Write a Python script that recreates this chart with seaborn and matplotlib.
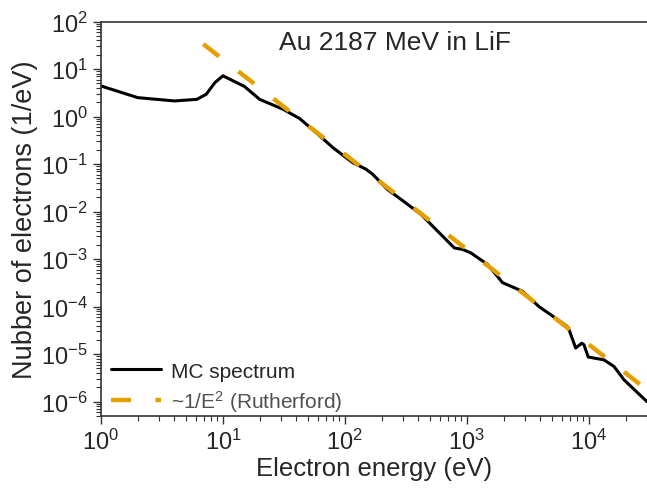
import matplotlib
matplotlib.use("Agg")
import matplotlib.pyplot as plt
import seaborn as sns
import pandas as pd
import numpy as np
from matplotlib.ticker import LogLocator, NullFormatter

# MC electron spectrum
mc_energy = [1, 2, 4, 6.1, 7.3, 8.6, 10, 15, 20, 31, 42.5, 58, 80, 116, 149, 169,
             224, 289, 421, 789, 922, 1080, 1480, 1960, 2860, 3910, 5350, 6670,
             6970, 7800, 8750, 9120, 9900, 13300, 16100, 19400, 30000]
mc_counts = [4.4, 2.5, 2.13, 2.3, 2.95, 5.2, 7.2, 4.3, 2.3, 1.43, 0.91, 0.46, 0.22,
             0.107, 0.078, 0.061, 0.029, 0.018, 8.7e-3, 1.72e-3, 1.6e-3, 1.35e-3,
             7.7e-4, 3.2e-4, 2.1e-4, 1.0e-4, 5.7e-5, 3.8e-5, 3.0e-5, 1.35e-5,
             1.7e-5, 1.58e-5, 8.7e-6, 7.6e-6, 5.5e-6, 2.9e-6, 1.0e-6]

# ~1/E^2 guide line, end points
ruth_energy = [6.9, 30000]
ruth_counts = [33.5, 1.78e-6]

mc = pd.DataFrame({"energy": mc_energy, "counts": mc_counts})
ru = pd.DataFrame({"energy": ruth_energy, "counts": ruth_counts})

sns.set_style("ticks")
plt.rcParams['font.family'] = ['Liberation Sans', 'DejaVu Sans']
plt.rcParams['mathtext.fontset'] = 'custom'
plt.rcParams['mathtext.rm'] = 'Liberation Sans'
plt.rcParams['mathtext.it'] = 'Liberation Sans:italic'

fig = plt.figure(figsize=(6.47, 4.89), dpi=100)
ax = fig.add_axes([101/647, 1 - 417/489, 1 - 101/647, (417 - 22.5)/489])

sns.lineplot(data=mc, x="energy", y="counts", color="black", lw=2.2,
             estimator=None, ax=ax, label="MC spectrum")
sns.lineplot(data=ru, x="energy", y="counts", color="#E69F00", lw=3.2,
             estimator=None, ax=ax, linestyle=(0, (4.5, 5.5)),
             label=r"~1/$\mathdefault{E^{2}}$ (Rutherford)")

ax.set_xscale("log")
ax.set_yscale("log")
ax.set_xlim(1, 3e4)
ax.set_ylim(5e-7, 1e2)

ax.xaxis.set_major_locator(LogLocator(base=10, numticks=20))
ax.xaxis.set_minor_locator(LogLocator(base=10, subs=np.arange(2, 10), numticks=100))
ax.yaxis.set_major_locator(LogLocator(base=10, numticks=20))
ax.yaxis.set_minor_locator(LogLocator(base=10, subs=np.arange(2, 10), numticks=100))
ax.xaxis.set_minor_formatter(NullFormatter())
ax.yaxis.set_minor_formatter(NullFormatter())

ax.tick_params(which="major", direction="out", length=6, width=1, labelsize=17,
               color="#333333", top=False, right=False)
ax.tick_params(which="minor", direction="out", length=3.5, width=0.8,
               color="#333333", top=False, right=False)
for s in ["left", "bottom", "top"]:
    ax.spines[s].set_color("#333333")
    ax.spines[s].set_linewidth(1.2)
ax.spines["right"].set_visible(False)

ax.set_xlabel("Electron energy (eV)", fontsize=18.5, labelpad=1)
ax.set_ylabel("Nubber of electrons (1/eV)", fontsize=19.5, labelpad=2)

ax.text(0.539, 0.948, "Au 2187 MeV in LiF", transform=ax.transAxes,
        ha="center", va="center", fontsize=19)

leg = ax.legend(loc="lower left", frameon=False, fontsize=15, handlelength=2.4,
                borderaxespad=0.1, borderpad=0.1, labelspacing=0.35,
                handletextpad=0.5, bbox_to_anchor=(0.01, -0.005))
leg.get_texts()[1].set_color("#505050")

fig.savefig("out.png", dpi=100)
